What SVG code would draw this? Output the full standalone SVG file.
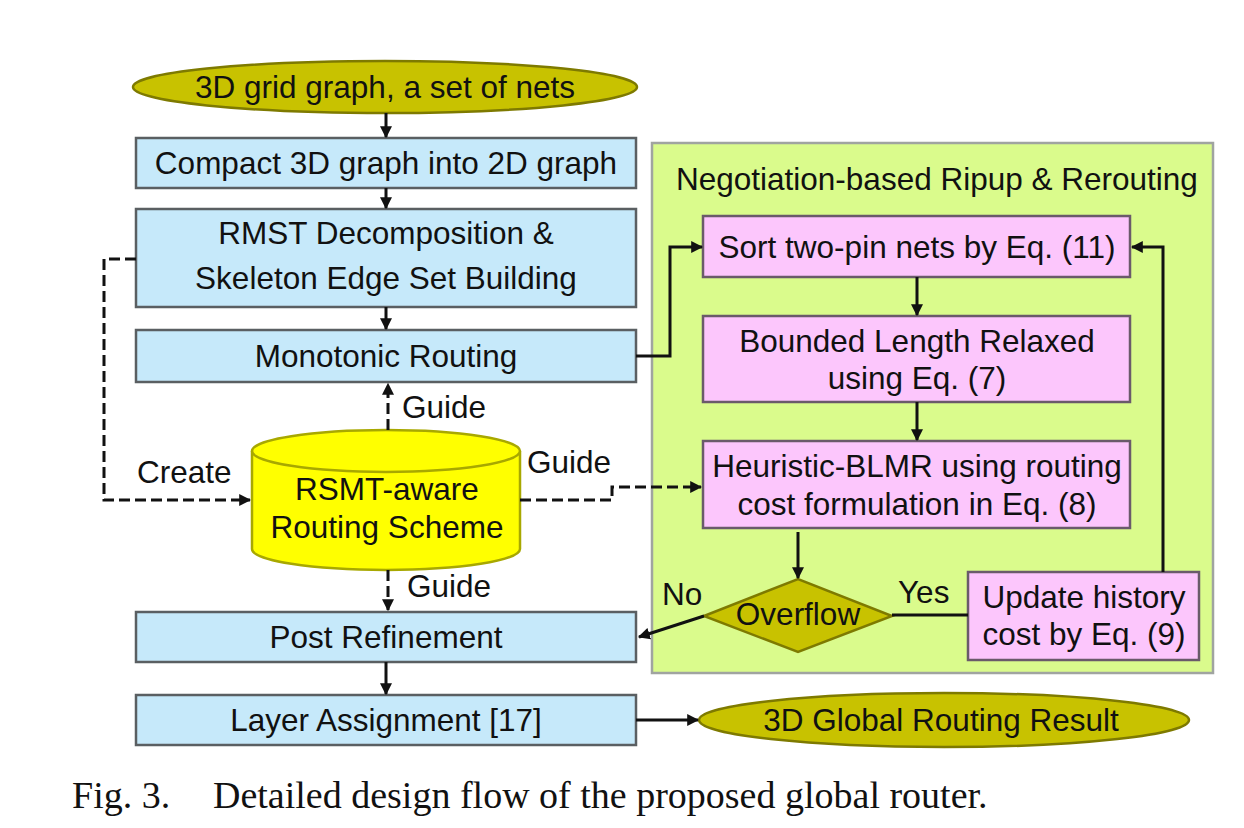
<svg xmlns="http://www.w3.org/2000/svg" width="1244" height="828" viewBox="0 0 1244 828">
<style>
text{font-family:"Liberation Sans",Arial,sans-serif;font-size:31.5px;fill:#111}
.c{text-anchor:middle}
.blue{fill:#c6e9fa;stroke:#5a5f62;stroke-width:2.5}
.pink{fill:#fcc6fc;stroke:#6a5a6a;stroke-width:2.5}
.olive{fill:#c8c200;stroke:#7e7a00;stroke-width:2.5}
.cyl{fill:#ffff00;stroke:#a8a800;stroke-width:2.5}
.panel{fill:#dafb8c;stroke:#a0a4a0;stroke-width:2.5}
.ln{fill:none;stroke:#111;stroke-width:3}
.dash{fill:none;stroke:#111;stroke-width:3;stroke-dasharray:11,5}
.cap{font-family:"Liberation Serif","Times New Roman",serif;font-size:38px}
</style>
<defs>
<marker id="ah" viewBox="0 0 10 10" refX="9" refY="5" markerWidth="4" markerHeight="4" orient="auto" markerUnits="strokeWidth">
<path d="M0,0 L10,5 L0,10 z" fill="#111"/>
</marker>
</defs>
<rect width="1244" height="828" fill="#fff"/>

<g id="panel">
<rect class="panel" x="652" y="143" width="561" height="530"/>
<text x="676" y="190" style="font-size:31.5px">Negotiation-based Ripup &amp; Rerouting</text>
</g>

<g id="start">
<ellipse class="olive" cx="385" cy="87" rx="252" ry="26"/>
<text class="c" x="385" y="98">3D grid graph, a set of nets</text>
</g>
<g id="compact">
<rect class="blue" x="136" y="138" width="500" height="50"/>
<text class="c" x="386" y="174">Compact 3D graph into 2D graph</text>
</g>
<g id="rmst">
<rect class="blue" x="136" y="209" width="500" height="98"/>
<text class="c" x="386" y="244">RMST Decomposition &amp;</text>
<text class="c" x="386" y="289">Skeleton Edge Set Building</text>
</g>
<g id="monotonic">
<rect class="blue" x="136" y="330" width="500" height="52"/>
<text class="c" x="386" y="367">Monotonic Routing</text>
</g>
<g id="scheme">
<path class="cyl" d="M252,451 V549 A134,21 0 0 0 520,549 V451 A134,21 0 0 0 252,451 Z"/>
<path class="cyl" d="M252,451 A134,21 0 0 0 520,451" fill="none"/>
<text class="c" x="387" y="500">RSMT-aware</text>
<text class="c" x="387" y="538">Routing Scheme</text>
</g>
<g id="post">
<rect class="blue" x="136" y="612" width="500" height="50"/>
<text class="c" x="386" y="648">Post Refinement</text>
</g>
<g id="layer">
<rect class="blue" x="136" y="695" width="500" height="50"/>
<text class="c" x="386" y="731">Layer Assignment [17]</text>
</g>
<g id="result">
<ellipse class="olive" cx="944" cy="720" rx="245" ry="27"/>
<text class="c" x="941" y="731">3D Global Routing Result</text>
</g>
<g id="sort">
<rect class="pink" x="703" y="216" width="427" height="61"/>
<text class="c" x="917" y="258">Sort two-pin nets by Eq. (11)</text>
</g>
<g id="bounded">
<rect class="pink" x="703" y="316" width="427" height="86"/>
<text class="c" x="917" y="352">Bounded Length Relaxed</text>
<text class="c" x="917" y="389">using Eq. (7)</text>
</g>
<g id="heuristic">
<rect class="pink" x="703" y="441" width="427" height="87"/>
<text class="c" x="917" y="477">Heuristic-BLMR using routing</text>
<text class="c" x="917" y="515">cost formulation in Eq. (8)</text>
</g>
<g id="overflow">
<polygon class="olive" points="704,616 798,579 892,616 798,652"/>
<text class="c" x="798" y="625">Overflow</text>
</g>
<g id="update">
<rect class="pink" x="968" y="572" width="231" height="88"/>
<text class="c" x="1084" y="608">Update history</text>
<text class="c" x="1084" y="645">cost by Eq. (9)</text>
</g>

<g id="connectors">
<line class="ln" x1="386" y1="113" x2="386" y2="137" marker-end="url(#ah)"/>
<line class="ln" x1="386" y1="188" x2="386" y2="208" marker-end="url(#ah)"/>
<line class="ln" x1="386" y1="307" x2="386" y2="329" marker-end="url(#ah)"/>
<line class="ln" x1="386" y1="662" x2="386" y2="694" marker-end="url(#ah)"/>
<line class="ln" x1="636" y1="720" x2="698" y2="720" marker-end="url(#ah)"/>
<path class="ln" d="M636,356 H670 V247 H702" marker-end="url(#ah)"/>
<line class="ln" x1="917" y1="277" x2="917" y2="315" marker-end="url(#ah)"/>
<line class="ln" x1="917" y1="402" x2="917" y2="440" marker-end="url(#ah)"/>
<line class="ln" x1="798" y1="532" x2="798" y2="578" marker-end="url(#ah)"/>
<line class="ln" x1="704" y1="616" x2="639" y2="637" marker-end="url(#ah)"/>
<line class="ln" x1="892" y1="615" x2="968" y2="615"/>
<path class="ln" d="M1163,572 V247 H1132" marker-end="url(#ah)"/>
<path class="dash" d="M136,259 H104 V500 H250" marker-end="url(#ah)"/>
<line class="dash" x1="388" y1="430" x2="388" y2="384" marker-end="url(#ah)"/>
<line class="dash" x1="388" y1="570" x2="388" y2="610" marker-end="url(#ah)"/>
<path class="dash" d="M520,500 H612 V487 H701" marker-end="url(#ah)"/>
<text x="402" y="418">Guide</text>
<text x="527" y="473">Guide</text>
<text x="407" y="597">Guide</text>
<text x="137" y="483">Create</text>
<text x="662" y="605">No</text>
<text x="898" y="603">Yes</text>
</g>

<text class="cap" x="72" y="808">Fig. 3.</text>
<text class="cap" x="213" y="808">Detailed design flow of the proposed global router.</text>
</svg>
